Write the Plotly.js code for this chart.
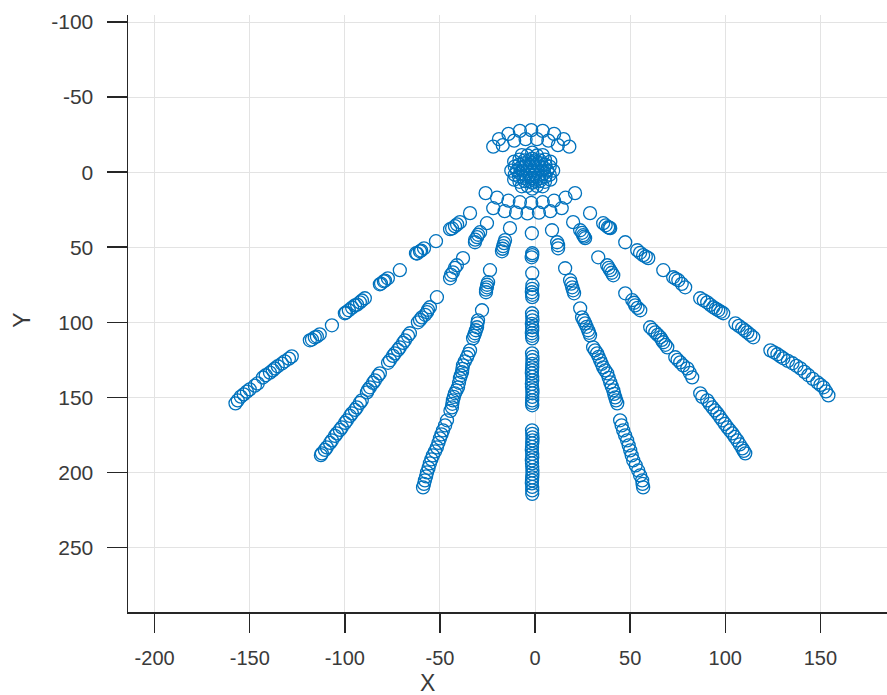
<!DOCTYPE html>
<html>
<head>
<meta charset="utf-8">
<script src="https://cdn.plot.ly/plotly-3.0.1.min.js"></script>
<style>html,body{margin:0;padding:0;background:#fff;}#chart{width:887px;height:695px;}</style>
</head>
<body>
<div id="chart"></div>
<script>
// ---- data ----
var topArcX = [-22, -19, -14, -8, -2, 4, 10, 15, 18, -17, -11, -5, 1, 7, 12];
var topArcY = [-17, -22, -25.5, -27.5, -28, -27.5, -25.5, -22, -17, -18, -21, -22, -22, -21, -18];

var coreX = [9.5, 8.0, 4.0, -1.5, -7.0, -11.0, -12.5, -11.0, -7.0, -1.5, 4.0, 8.0,
             7.7, 5.2, 1.0, -4.0, -8.2, -10.7, -10.7, -8.2, -4.0, 1.0, 5.2, 7.7,
             6.5, 5.4, 2.5, -1.5, -5.5, -8.4, -9.5, -8.4, -5.5, -1.5, 2.5, 5.4,
             4.8, 3.1, 0.2, -3.2, -6.1, -7.8, -7.8, -6.1, -3.2, 0.2, 3.1, 4.8,
             3.5, 2, -1.5, -5, -6.5, -5, -1.5, 2,
             1, -0.2, -2.7, -4, -2.7, -0.2,
             -1.5, -1.5, -1.5];
var coreY = [-1, 5, 9.4, 11, 9.4, 5, -1, -7, -11.4, -13, -11.4, -7,
             1.7, 6.4, 9.1, 9.1, 6.4, 1.7, -3.7, -8.4, -11.1, -11.1, -8.4, -3.7,
             -1, 3, 5.9, 7, 5.9, 3, -1, -5, -7.9, -9, -7.9, -5,
             0.8, 3.9, 5.8, 5.8, 3.9, 0.8, -2.8, -5.9, -7.8, -7.8, -5.9, -2.8,
             -1, 2.5, 4, 2.5, -1, -4.5, -6, -4.5,
             -1, 1.6, 1.6, -1, -3.6, -3.6,
             -1, 4, -6];

var lowArcX = [-26, -20, -14, -8, -2, 4, 10, 16, 21, -22, -16, -10, -4, 2, 8, 14];
var lowArcY = [14, 17, 19, 20, 20.5, 20, 19, 17, 14, 24, 26, 27, 27.5, 27, 26, 24];

var rayL3X = [-34.2, -39.5, -42.1, -44.7, -52.1, -58.4, -60.5, -62.6, -71.1, -77.4, -79.5, -81.6, -89.5, -92.1, -94.7, -97.9, -100, -106.8, -113.2, -115.8, -118.4, -127.9, -131.6, -135.3, -137.9, -141.6, -145.8, -150, -153.2, -156.3,
              -41, -43.6, -59.9, -62, -78.9, -81, -91, -93.6, -96.2, -99.4, -114.7, -117.3, -129.4, -133.1, -136.8, -139.4, -143.1, -147.3, -151.5, -154.7, -157.5];
var rayL3Y = [27.3, 33.3, 36, 38, 46, 50.7, 52.7, 54, 65.3, 70.7, 72.7, 74.7, 84, 86.7, 88.7, 92, 94, 102, 108, 110, 112, 122.7, 126, 129.3, 132, 135.3, 140.7, 144.7, 148, 152,
              34.8, 37.5, 52.2, 54.2, 72.2, 74.2, 85.5, 88.2, 90.2, 93.5, 109.5, 111.5, 124.2, 127.5, 130.8, 133.5, 136.8, 142.2, 146.2, 149.5, 154];

var rayL2X = [-25.3, -28.9, -30.5, -31.6, -37.9, -41.1, -43.2, -44.7, -51.6, -55.3, -56.8, -59.5, -61.6, -65.8, -68.4, -71.1, -73.7, -76.3, -81.6, -84.2, -86.8, -88.4, -91.1, -93.7, -96.3, -98.9, -101.6, -104.2, -106.8, -109.5, -112.1,
              -29.9, -31.5, -42.1, -44.2, -56.3, -57.8, -60.5, -66.8, -69.4, -72.1, -74.7, -77.3, -82.6, -85.2, -87.8, -92.1, -94.7, -97.3, -99.9, -102.6, -105.2, -107.8, -110.5, -112.6];
var rayL2Y = [34, 40, 43.3, 46.7, 57.3, 62, 66.7, 70.7, 83.3, 90, 93.3, 96.7, 100, 107.3, 112, 116.7, 120.7, 125.3, 134, 138.7, 143.3, 146.7, 152, 156.7, 160.7, 165.3, 170, 174, 178.7, 183.3, 187.3,
              41.7, 45, 63.7, 68.4, 91.7, 95, 98.4, 109, 113.7, 118.4, 122.4, 127, 135.7, 140.4, 145, 153.7, 158.4, 162.4, 167, 171.7, 175.7, 180.4, 185, 188.5];

var rayL1X = [-13.2, -15.8, -16.8, -17.4, -23.7, -24.7, -25.3, -25.8, -27.9, -30, -30.5, -31.6, -32.6, -34.2, -35.8, -37.9, -38.4, -39.5, -40.5, -42.1, -43.2, -43.7, -46.3, -48.4, -50, -51.6, -53.7, -55.3, -56.8, -57.9, -58.9,
              -16.3, -17.1, -25.2, -25.8, -30.3, -31.1, -32.1, -35, -36.9, -38.2, -39, -40, -41.3, -42.7, -43.5, -44.5, -47.3, -49.2, -50.8, -52.6, -54.5, -56, -57.3, -58.4];
var rayL1Y = [37.3, 45.3, 49.3, 52.7, 65.3, 73.3, 76.7, 80, 92, 98.7, 103.3, 107.3, 110.7, 118.7, 123.3, 128.7, 133.3, 137.3, 143.3, 147.3, 152, 156.7, 165.3, 172, 177.3, 183.3, 188.7, 194, 200, 205.3, 210,
              47.3, 51, 75, 78.3, 100.7, 105.3, 109, 121, 126, 131, 135.3, 140.3, 145.3, 149.7, 154.3, 159, 168.7, 174.7, 180.3, 186, 191.3, 197, 202.7, 207.7];

var rayCX = [-1.7, -1.5, -1.8, -1.5, -1.4, -1.7, -1.5, -1.6, -1.4, -1.5, -1.7, -1.5, -1.6, -1.4, -1.5, -1.7, -1.5, -1.6, -1.4, -1.5, -1.5, -1.6, -1.4, -1.5, -1.7, -1.5, -1.6, -1.4, -1.5, -1.7, -1.5,
             -1.5, -1.6, -1.4, -1.5, -1.7, -1.5, -1.6, -1.4, -1.5, -1.6, -1.5, -1.7, -1.4, -1.5, -1.6, -1.5, -1.4, -1.6, -1.5, -1.7, -1.5, -1.4, -1.6, -1.5, -1.5];
var rayCY = [40.7, 54, 56.7, 67.3, 75.3, 80, 83.3, 94, 98.7, 103.3, 107.3, 110.7, 120.7, 125.3, 130, 134, 138.7, 143.3, 147.3, 152, 155.3, 172, 176.7, 180.7, 185.3, 190, 194, 198.7, 203.3, 207.3, 212,
             55.3, 77.7, 81.7, 96.3, 101, 105.3, 109, 123, 127.7, 132, 136.3, 141, 145.3, 149.7, 153.7, 174.3, 178.7, 183, 187.7, 192, 196.3, 201, 205.3, 209.7, 214.3, 216.7];

var rayR1X = [8.9, 11.6, 12.1, 15.8, 18.4, 19.5, 20.5, 23.7, 24.7, 26.3, 27.9, 28.9, 30.5, 32.6, 34.2, 35.8, 37.9, 39.5, 41.1, 42.1, 43.2, 44.7, 46.3, 48.4, 50, 51.6, 54.2, 56.3, 56.8,
              12.1, 19, 20, 25.5, 27.1, 28.4, 31.5, 33.4, 35, 36.8, 38.7, 40.3, 41.6, 42.6, 45.5, 47.3, 49.2, 50.8, 52.9, 55.2, 56.5];
var rayR1Y = [38.7, 46.7, 50.7, 64, 72, 76.7, 80.7, 90.7, 96.7, 100.7, 105.3, 108.7, 116.7, 120.7, 125.3, 130, 134, 140, 145.3, 150, 154, 165.3, 172, 178.7, 185.3, 192, 198.7, 205.3, 210,
              48.7, 74.3, 78.7, 98.7, 103, 107, 118.7, 123, 127.7, 132, 137, 142.7, 147.7, 152, 168.7, 175.3, 182, 188.7, 195.3, 202, 207.7];

var rayR2X = [20, 23.7, 25.3, 26.3, 33.2, 37.9, 39.5, 41.1, 47.4, 51.1, 52.6, 55.3, 60.5, 63.2, 65.8, 67.4, 69.5, 73.7, 76.3, 80, 82.6, 86.8, 90.5, 93.2, 95.8, 98.4, 101.1, 103.7, 106.3, 108.9, 110.5,
              24.7, 25.8, 38.7, 40.3, 52.1, 53.9, 61.8, 64.5, 66.6, 68.5, 74.9, 77.8, 81.3, 87.9, 91.8, 94.5, 97.1, 99.8, 102.4, 105, 107.6, 109.7];
var rayR2Y = [33.3, 38.7, 42, 44, 56.7, 62, 65.3, 68.7, 80.7, 85.3, 88.7, 92, 103.3, 106.7, 110, 113.3, 116.7, 123.3, 126.7, 130.7, 136.7, 147.3, 152, 156.7, 160.7, 165.3, 170, 174, 178.7, 184, 187.3,
              40.4, 43, 63.7, 67, 87, 90.4, 105, 108.4, 111.7, 115, 125, 128.7, 133.7, 149.7, 154.4, 158.7, 163, 167.7, 172, 176.4, 181.4, 185.7];

var rayR3X = [28.9, 35.8, 38.4, 39.5, 47.4, 53.7, 56.8, 59.5, 67.4, 72.6, 75.3, 78.9, 86.8, 90.5, 93.7, 96.3, 98.9, 105.3, 108.9, 111.6, 114.7, 123.7, 127.4, 130.5, 135.3, 139.5, 143.7, 148.4, 151.6, 154.2,
              37.1, 39, 55.2, 58.2, 73.9, 77.1, 88.7, 92.1, 95, 97.6, 107.1, 110.3, 113.2, 125.6, 129, 132.9, 137.4, 141.6, 146, 150, 152.9];
var rayR3Y = [27.3, 34, 36.7, 37.3, 46.7, 52, 55.3, 57.3, 65.3, 70, 72, 76.7, 84, 86.7, 90, 92, 94, 100.7, 104, 106.7, 110, 118.7, 121.3, 124, 127.3, 130.7, 135.3, 140, 143.3, 148.7,
              35.4, 37, 53.7, 56.3, 71, 74.4, 85.4, 88.4, 91, 93, 102.4, 105.4, 108.4, 120, 122.7, 125.7, 129, 133, 137.7, 141.7, 146];

var xTicks = [-200, -150, -100, -50, 0, 50, 100, 150];
var yTicks = [-100, -50, 0, 50, 100, 150, 200, 250];

// ---- chart ----
var groups = [
  [topArcX, topArcY], [coreX, coreY], [lowArcX, lowArcY],
  [rayL3X, rayL3Y], [rayL2X, rayL2Y], [rayL1X, rayL1Y], [rayCX, rayCY],
  [rayR1X, rayR1Y], [rayR2X, rayR2Y], [rayR3X, rayR3Y]
];
var traces = groups.map(function (g) {
  return {
    type: 'scatter', mode: 'markers', x: g[0], y: g[1], showlegend: false,
    hoverinfo: 'x+y',
    marker: { symbol: 'circle-open', size: 13, color: '#0072BD', line: { width: 1.3, color: '#0072BD' } }
  };
});

var fam = 'Liberation Sans, Arial, sans-serif';
var layout = {
  width: 887, height: 695,
  margin: { l: 128, r: 0, t: 15, b: 83 },
  paper_bgcolor: '#ffffff', plot_bgcolor: '#ffffff',
  xaxis: {
    range: [-214, 185], tickvals: xTicks, ticktext: xTicks.map(String),
    showgrid: true, gridcolor: '#e3e3e3', gridwidth: 1, zeroline: false,
    showline: true, linecolor: '#262626', linewidth: 1.5,
    ticks: 'outside', ticklen: 19, tickcolor: '#262626', tickwidth: 1.5,
    ticklabelstandoff: 8, tickfont: { family: fam, size: 20, color: '#3a3a3a' }
  },
  yaxis: {
    range: [293, -104.7], tickvals: yTicks, ticktext: yTicks.map(String),
    showgrid: true, gridcolor: '#e3e3e3', gridwidth: 1, zeroline: false,
    showline: true, linecolor: '#262626', linewidth: 1.5,
    ticks: 'outside', ticklen: 20, tickcolor: '#262626', tickwidth: 1.5,
    ticklabelstandoff: 9, tickfont: { family: fam, size: 21, color: '#3a3a3a' }
  },
  annotations: [
    { text: 'X', xref: 'paper', yref: 'paper', x: 0.395, y: -0.119, showarrow: false,
      xanchor: 'center', yanchor: 'middle', font: { family: fam, size: 23, color: '#3a3a3a' } },
    { text: 'Y', xref: 'paper', yref: 'paper', x: -0.14, y: 0.489, showarrow: false, textangle: -90,
      xanchor: 'center', yanchor: 'middle', font: { family: fam, size: 23, color: '#3a3a3a' } }
  ]
};

Plotly.newPlot('chart', traces, layout, { displayModeBar: false, staticPlot: true });
</script>
</body>
</html>
